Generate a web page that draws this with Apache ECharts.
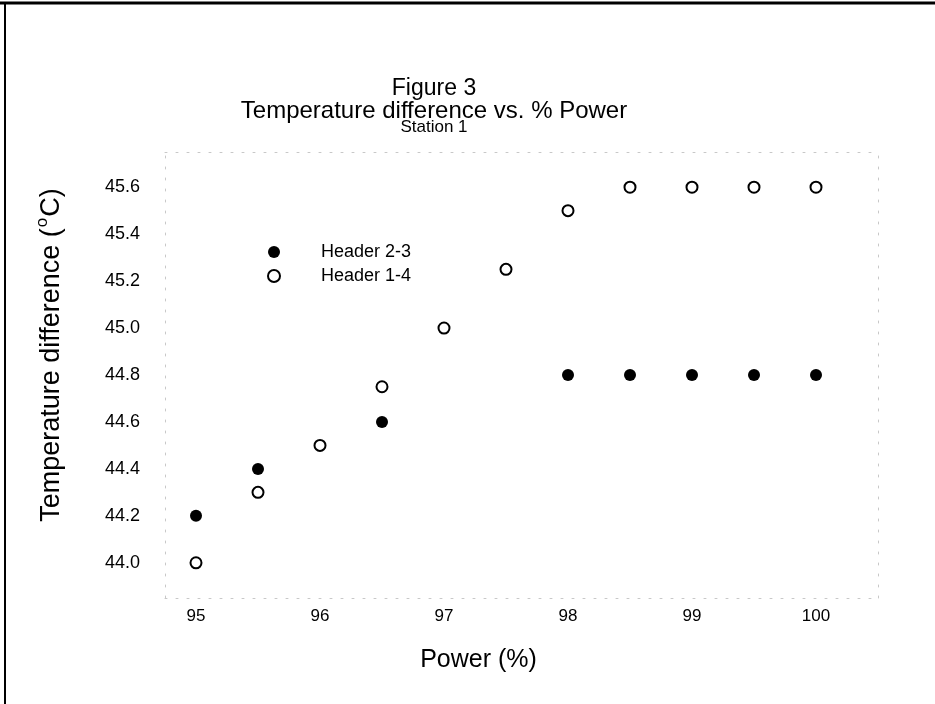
<!DOCTYPE html>
<html>
<head>
<meta charset="utf-8">
<script src="https://cdn.jsdelivr.net/npm/echarts@6/dist/echarts.min.js"></script>
<style>
html,body{margin:0;padding:0;background:#fff;}
#chart{width:935px;height:704px;}
</style>
</head>
<body>
<div id="chart"></div>
<script>
var powerHeader23 = [95, 95.5, 96.5, 98, 98.5, 99, 99.5, 100];
var tempHeader23 = [44.2, 44.4, 44.6, 44.8, 44.8, 44.8, 44.8, 44.8];
var powerHeader14 = [95, 95.5, 96, 96.5, 97, 97.5, 98, 98.5, 99, 99.5, 100];
var tempHeader14 = [44.0, 44.3, 44.5, 44.75, 45.0, 45.25, 45.5, 45.6, 45.6, 45.6, 45.6];
var seriesNames = ['Header 2-3', 'Header 1-4'];
var titleLines = ['Figure 3', 'Temperature difference vs. % Power', 'Station 1'];

function pairs(xs, ys) { return xs.map(function (x, i) { return [x, ys[i]]; }); }

var font = '"Liberation Sans", Arial, sans-serif';
var faint = { color: '#c8c8c8', width: 1, type: [2, 9] };

var chart = echarts.init(document.getElementById('chart'));
chart.setOption({
  backgroundColor: '#fff',
  animation: false,
  title: [
    { text: titleLines[0], left: 429, top: 72, textAlign: 'center',
      textStyle: { fontFamily: font, fontSize: 23, fontWeight: 'normal', color: '#000' } },
    { text: titleLines[1], left: 429, top: 94, textAlign: 'center',
      textStyle: { fontFamily: font, fontSize: 24, fontWeight: 'normal', color: '#000' } },
    { text: titleLines[2], left: 429, top: 114, textAlign: 'center',
      textStyle: { fontFamily: font, fontSize: 17, fontWeight: 'normal', color: '#000' } }
  ],
  legend: {
    orient: 'vertical', left: 262, top: 238, itemWidth: 12, itemHeight: 12, itemGap: 6,
    data: [
      { name: seriesNames[0], icon: 'circle' },
      { name: seriesNames[1], icon: 'circle' }
    ],
    textStyle: { fontFamily: font, fontSize: 18, color: '#000', padding: [0, 0, 0, 36] }
  },
  grid: { left: 165, right: 57, top: 152, bottom: 106, containLabel: false },
  xAxis: [{
    type: 'value', min: 94.75, max: 100.5, interval: 0.25,
    name: 'Power (%)', nameLocation: 'middle', nameGap: 50,
    nameTextStyle: { fontFamily: font, fontSize: 25, color: '#000', padding: [0, 86, 0, 0] },
    axisLine: { show: true, lineStyle: faint }, axisTick: { show: false }, splitLine: { show: false },
    axisLabel: { fontFamily: font, fontSize: 17, color: '#000', margin: 10,
      formatter: function (v) { return Math.abs(v - Math.round(v)) < 1e-6 ? String(Math.round(v)) : ''; } }
  }, {
    type: 'value', position: 'top', min: 94.75, max: 100.5, interval: 0.25,
    axisLine: { show: true, onZero: false, lineStyle: faint }, axisTick: { show: false },
    axisLabel: { show: false }, splitLine: { show: false }
  }],
  yAxis: [{
    type: 'value', min: 43.85, max: 45.75, interval: 0.05,
    name: '{a|Temperature difference (}{s|o}{a|C)}', nameLocation: 'middle', nameGap: 100,
    nameTextStyle: { fontFamily: font, color: '#000', padding: [0, 0, 0, 40],
      rich: { a: { fontFamily: font, fontSize: 27, color: '#000', lineHeight: 34, verticalAlign: 'bottom' },
              s: { fontFamily: font, fontSize: 17, color: '#000', lineHeight: 17, padding: [0, 1, 14, 1], verticalAlign: 'bottom' } } },
    axisLine: { show: true, lineStyle: faint }, axisTick: { show: false }, splitLine: { show: false },
    axisLabel: { fontFamily: font, fontSize: 18, color: '#000', margin: 25,
      formatter: function (v) { return Math.abs(v * 5 - Math.round(v * 5)) < 1e-6 ? v.toFixed(1) : ''; } }
  }, {
    type: 'value', position: 'right', min: 43.85, max: 45.75, interval: 0.05,
    axisLine: { show: true, onZero: false, lineStyle: faint }, axisTick: { show: false },
    axisLabel: { show: false }, splitLine: { show: false }
  }],
  series: [
    { name: seriesNames[0], type: 'scatter', symbol: 'circle', symbolSize: 12,
      itemStyle: { color: '#000', borderColor: '#000', borderWidth: 0, opacity: 1 },
      data: pairs(powerHeader23, tempHeader23) },
    { name: seriesNames[1], type: 'scatter', symbol: 'circle', symbolSize: 11,
      itemStyle: { color: '#fff', borderColor: '#000', borderWidth: 2, opacity: 1 },
      data: pairs(powerHeader14, tempHeader14) }
  ],
  graphic: [
    { type: 'line', shape: { x1: 0, y1: 3, x2: 935, y2: 3 }, style: { stroke: '#000', lineWidth: 3 } },
    { type: 'line', shape: { x1: 5, y1: 2, x2: 5, y2: 704 }, style: { stroke: '#000', lineWidth: 2 } }
  ]
});
</script>
</body>
</html>
